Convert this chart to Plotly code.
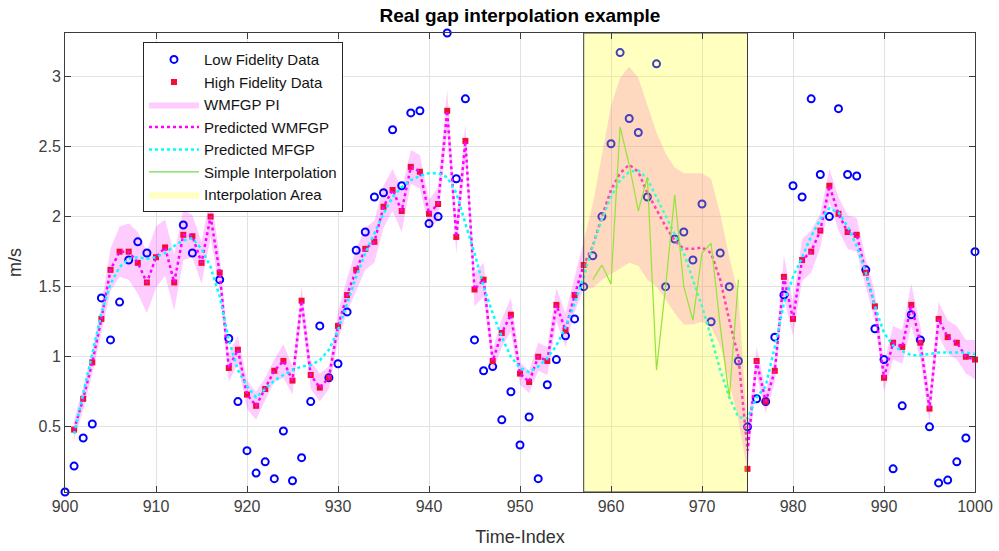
import plotly.graph_objects as go

# ---------------- data ----------------
t_start, t_end = 900, 1000
time_idx = list(range(t_start, t_end + 1))          # 900..1000
pred_idx = list(range(901, t_end + 1))             # 901..1000
gap_start, gap_end = 957, 975
interp_idx = list(range(958, 975))                 # 958..974
y_range = [0.035, 3.31]

low_fidelity = [
    0.035, 0.22, 0.42, 0.52, 1.42, 1.12, 1.39, 1.69, 1.82, 1.74,   # 900-909
    2.09, None, None, 1.94, 1.74, None, None, 1.55, 1.13, 0.68,    # 910-919
    0.33, 0.17, 0.25, 0.13, 0.47, 0.115, 0.28, 0.68, 1.22, 0.85,   # 920-929
    0.95, 1.32, 1.76, 1.89, 2.14, 2.17, 2.62, 2.22, 2.74, 2.755,   # 930-939
    1.95, 2.00, 3.31, 2.27, 2.84, 1.12, 0.90, 0.93, 0.55, 0.75,    # 940-949
    0.37, 0.57, 0.13, 0.80, 0.98, 1.15, 1.27, 1.50, 1.72, 2.00,    # 950-959
    2.52, 3.17, 2.70, 2.60, 2.14, 3.09, 1.50, 1.84, 1.89, 1.69,    # 960-969
    2.09, 1.25, 1.74, 1.50, 0.97, 0.50, 0.70, 0.68, 1.14, 1.44,    # 970-979
    2.22, 2.14, 2.84, 2.30, 2.00, 2.77, 2.30, 2.29, 1.62, 1.20,    # 980-989
    0.98, 0.20, 0.65, 1.30, 1.12, 0.50, 0.10, 0.12, 0.25, 0.42,    # 990-999
    1.75,                                                          # 1000
]

high_fidelity = [
    0.48, 0.70, 0.96, 1.27, 1.62, 1.75, 1.75, 1.67, 1.53,          # 901-909
    1.71, 1.78, 1.53, 1.87, 1.86, 1.67, 2.00, 1.60, 0.92, 1.05,    # 910-919
    0.73, 0.65, 0.77, 0.90, 0.97, 0.83, 1.40, 0.87, 0.78, 0.85,    # 920-929
    1.22, 1.44, 1.62, 1.77, 1.82, 2.07, 2.19, 2.04, 2.355, 2.32,   # 930-939
    2.02, 2.09, 2.755, 1.855, 2.54, 1.48, 1.55, 0.97, 1.17, 1.30,  # 940-949
    0.88, 0.82, 1.00, 0.97, 1.37, 1.19, 1.44, 1.655, None, None,   # 950-959
    None, None, None, None, None, None, None, None, None, None,    # 960-969
    None, None, None, None, None, 0.20, 0.97, 0.68, 0.90, 1.57,    # 970-979
    1.27, 1.69, 1.75, 1.90, 2.22, 2.02, 1.89, 1.87, 1.60, 1.36,    # 980-989
    0.85, 1.10, 1.07, 1.37, 1.10, 0.63, 1.27, 1.14, 1.10, 1.00,    # 990-999
    0.98,                                                          # 1000
]

wmfgp = [
    0.48, 0.70, 0.96, 1.27, 1.62, 1.75, 1.75, 1.67, 1.53,          # 901-909
    1.71, 1.78, 1.53, 1.87, 1.86, 1.67, 2.00, 1.60, 0.92, 1.05,    # 910-919
    0.73, 0.65, 0.77, 0.90, 0.97, 0.83, 1.40, 0.87, 0.78, 0.85,    # 920-929
    1.22, 1.44, 1.62, 1.77, 1.82, 2.07, 2.19, 2.04, 2.355, 2.32,   # 930-939
    2.02, 2.09, 2.755, 1.855, 2.54, 1.48, 1.55, 0.97, 1.17, 1.30,  # 940-949
    0.88, 0.82, 1.00, 0.97, 1.37, 1.19, 1.44, 1.655, 1.79, 2.00,   # 950-959
    2.19, 2.31, 2.37, 2.32, 2.17, 2.05, 1.93, 1.83, 1.77, 1.77,    # 960-969
    1.78, 1.74, 1.55, 1.26, 1.00, 0.33, 0.97, 0.68, 0.90, 1.57,    # 970-979
    1.27, 1.69, 1.75, 1.90, 2.22, 2.02, 1.89, 1.87, 1.60, 1.36,    # 980-989
    0.85, 1.10, 1.07, 1.37, 1.10, 0.63, 1.27, 1.14, 1.10, 1.00,    # 990-999
    0.98,                                                          # 1000
]

pi_half_width = [
    0.07, 0.08, 0.08, 0.10, 0.15, 0.18, 0.20, 0.22, 0.22,          # 901-909
    0.22, 0.20, 0.20, 0.18, 0.15, 0.15, 0.15, 0.12, 0.10, 0.10,    # 910-919
    0.10, 0.10, 0.08, 0.08, 0.12, 0.10, 0.10, 0.10, 0.10, 0.08,    # 920-929
    0.10, 0.12, 0.15, 0.15, 0.15, 0.15, 0.15, 0.15, 0.12, 0.12,    # 930-939
    0.10, 0.12, 0.15, 0.12, 0.12, 0.12, 0.12, 0.08, 0.10, 0.12,    # 940-949
    0.08, 0.08, 0.10, 0.10, 0.12, 0.12, 0.12, 0.17, 0.30, 0.45,    # 950-959
    0.60, 0.68, 0.70, 0.67, 0.62, 0.55, 0.52, 0.52, 0.54, 0.54,    # 960-969
    0.53, 0.53, 0.47, 0.45, 0.45, 0.15, 0.10, 0.08, 0.08, 0.15,    # 970-979
    0.12, 0.15, 0.15, 0.12, 0.12, 0.12, 0.12, 0.12, 0.10, 0.10,    # 980-989
    0.10, 0.12, 0.12, 0.15, 0.12, 0.10, 0.12, 0.12, 0.12, 0.12,    # 990-999
    0.14,                                                          # 1000
]

mfgp = [
    0.45, 0.74, 1.02, 1.31, 1.52, 1.64, 1.70, 1.71, 1.70,          # 901-909
    1.71, 1.74, 1.79, 1.83, 1.845, 1.77, 1.64, 1.43, 1.12, 0.905,  # 910-919
    0.79, 0.71, 0.77, 0.83, 0.87, 0.905, 0.93, 0.94, 0.975, 1.05,  # 920-929
    1.19, 1.38, 1.57, 1.74, 1.88, 2.02, 2.14, 2.21, 2.26, 2.29,    # 930-939
    2.31, 2.31, 2.28, 2.17, 1.95, 1.74, 1.50, 1.31, 1.14, 1.00,    # 940-949
    0.92, 0.89, 0.93, 0.99, 1.08, 1.21, 1.38, 1.57, 1.79, 1.98,    # 950-959
    2.14, 2.26, 2.32, 2.33, 2.27, 2.14, 2.00, 1.88, 1.74, 1.55,    # 960-969
    1.36, 1.14, 0.905, 0.71, 0.57, 0.56, 0.71, 0.79, 1.07, 1.38,   # 970-979
    1.57, 1.71, 1.86, 1.98, 2.06, 2.03, 1.93, 1.79, 1.60, 1.36,    # 980-989
    1.17, 1.08, 1.04, 1.01, 1.01, 1.02, 1.03, 1.03, 1.03, 1.03,    # 990-999
    1.02,                                                          # 1000
]

simple_interp = [
    1.55, 1.655, 1.52, 2.64, 2.37, 2.04, 2.28, 0.905, 1.50,        # 958-966
    2.155, 1.50, 1.26, 1.74, 1.81, 1.22, 0.71, 1.55,               # 967-974
]

x_ticks = list(range(900, 1001, 10))
y_ticks = [0.5, 1, 1.5, 2, 2.5, 3]
y_tick_text = ["0.5", "1", "1.5", "2", "2.5", "3"]

# ---------------- figure ----------------
pi_upper = [m + h for m, h in zip(wmfgp, pi_half_width)]
pi_lower = [m - h for m, h in zip(wmfgp, pi_half_width)]

FONT = "Liberation Sans, Arial, Helvetica, sans-serif"

fig = go.Figure()

fig.add_trace(go.Scatter(
    x=pred_idx + pred_idx[::-1], y=pi_upper + pi_lower[::-1],
    fill="toself", fillcolor="rgba(255,0,255,0.2)", mode="lines",
    line=dict(width=0, color="rgba(255,0,255,0.2)"),
    name="WMFGP PI", legendrank=3, hoverinfo="skip"))

fig.add_trace(go.Scatter(
    x=time_idx, y=low_fidelity, mode="markers", name="Low Fidelity Data",
    marker=dict(symbol="circle-open", size=7, color="#0000ff",
                line=dict(width=2, color="#0000ff")),
    cliponaxis=False, legendrank=1))

fig.add_trace(go.Scatter(
    x=pred_idx, y=high_fidelity, mode="markers", name="High Fidelity Data",
    marker=dict(symbol="square", size=6, color="rgb(240,15,50)",
                line=dict(width=0)),
    cliponaxis=False, legendrank=2))

fig.add_trace(go.Scatter(
    x=pred_idx, y=wmfgp, mode="lines", name="Predicted WMFGP",
    line=dict(color="#ff00ff", width=2.5, dash="dot"), legendrank=4))

fig.add_trace(go.Scatter(
    x=pred_idx, y=mfgp, mode="lines", name="Predicted MFGP",
    line=dict(color="#00ffff", width=2.5, dash="dot"), legendrank=5))

fig.add_trace(go.Scatter(
    x=interp_idx, y=simple_interp, mode="lines", name="Simple Interpolation",
    line=dict(color="rgb(110,220,75)", width=1.2), legendrank=6))

# interpolation area: translucent fill on top of everything
fig.add_trace(go.Scatter(
    x=[gap_start, gap_end, gap_end, gap_start, gap_start],
    y=[y_range[0], y_range[0], y_range[1], y_range[1], y_range[0]],
    fill="toself", fillcolor="rgba(255,255,0,0.25)", mode="lines",
    line=dict(width=0, color="rgba(255,255,0,0.25)"),
    name="Interpolation Area", legendrank=7, hoverinfo="skip"))

# its border
fig.add_shape(
    type="rect", xref="x", yref="y domain",
    x0=gap_start, x1=gap_end, y0=0, y1=1, layer="above",
    fillcolor="rgba(0,0,0,0)",
    line=dict(color="rgb(60,60,60)", width=1))

axis_common = dict(
    showgrid=True, gridcolor="rgb(226,226,226)", gridwidth=1,
    showline=True, linecolor="rgb(60,60,60)", linewidth=1, mirror="ticks",
    ticks="inside", ticklen=6, tickcolor="rgb(60,60,60)", zeroline=False,
    automargin=False,
    tickfont=dict(family=FONT, size=16, color="rgb(64,64,64)"),
)

fig.update_layout(
    width=999, height=551,
    margin=dict(l=65, r=24, t=33, b=59),
    paper_bgcolor="white", plot_bgcolor="white",
    font=dict(family=FONT, size=15, color="rgb(38,38,38)"),
    title=dict(text="<b>Real gap interpolation example</b>", x=0.5205,
               xanchor="center", y=0.972, yanchor="middle",
               font=dict(size=19, color="black")),
    xaxis=dict(range=[t_start, t_end], tickvals=x_ticks,
               title=dict(text="Time-Index", standoff=16,
                          font=dict(size=18, color="rgb(50,50,50)")),
               **axis_common),
    yaxis=dict(range=y_range, tickvals=y_ticks, ticktext=y_tick_text,
               title=dict(text="m/s", standoff=12,
                          font=dict(size=18, color="rgb(50,50,50)")),
               **axis_common),
    legend=dict(x=0.0857, y=0.98, xanchor="left", yanchor="top",
                bgcolor="white", bordercolor="rgb(38,38,38)", borderwidth=1,
                font=dict(family=FONT, size=15, color="rgb(20,20,20)"),
                itemwidth=50, tracegroupgap=0),
    showlegend=True,
)

fig.write_html("out.html",
               config={"displayModeBar": False},
               post_script="document.body.style.margin='0';"
                           "document.body.style.padding='0';")
